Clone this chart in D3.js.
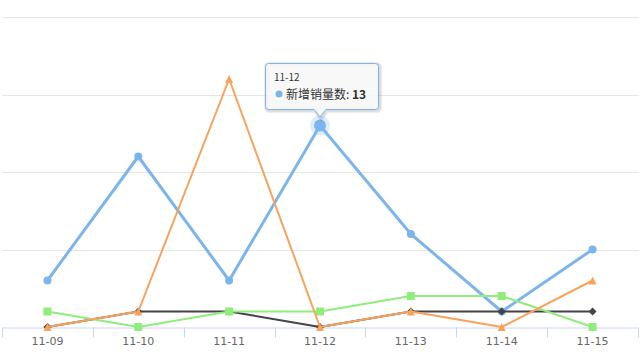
<!DOCTYPE html>
<html lang="zh">
<head>
<meta charset="utf-8">
<title>新增销量</title>
<script src="https://cdn.jsdelivr.net/npm/d3@7"></script>
<style>
  html, body { margin: 0; padding: 0; background: #fff; }
  svg { display: block; font-family: "Noto Sans CJK SC", "Noto Sans", sans-serif; }
</style>
</head>
<body>
<script>
// data
const categories = ['11-09', '11-10', '11-11', '11-12', '11-13', '11-14', '11-15'];
const salesNew = [3, 11, 3, 13, 6, 1, 5];     // 新增销量数
const seriesB  = [0, 1, 1, 0, 1, 1, 1];
const seriesC  = [1, 0, 1, 1, 2, 2, 0];
const seriesD  = [0, 1, 16, 0, 1, 0, 3];
const yTicks   = [0, 5, 10, 15, 20];

const hoverIndex = 3; // tooltip shown on 11-12

const width = 640, height = 360;
const plot = { left: 2, right: 638, top: 17, bottom: 327 };

const series = [
  { name: '新增销量数', data: salesNew, color: '#7cb5ec', symbol: 'circle' },
  { name: 'B', data: seriesB, color: '#434348', symbol: 'diamond' },
  { name: 'C', data: seriesC, color: '#90ed7d', symbol: 'square' },
  { name: 'D', data: seriesD, color: '#f7a35c', symbol: 'triangle' }
];

const x = d3.scaleBand().domain(categories).range([plot.left, plot.right]);
const y = d3.scaleLinear().domain([0, 20]).range([plot.bottom, plot.top]);
const cx = c => x(c) + x.bandwidth() / 2;

const svg = d3.select('body').append('svg')
    .attr('width', width)
    .attr('height', height);

// grid lines
svg.append('g')
  .selectAll('line')
  .data(yTicks.slice(1))
  .join('line')
    .attr('x1', plot.left).attr('x2', plot.right + 1)
    .attr('y1', d => Math.round(y(d)) + 0.5)
    .attr('y2', d => Math.round(y(d)) + 0.5)
    .attr('stroke', '#e6e6e6');

// x axis
const xAxis = svg.append('g')
    .attr('transform', `translate(0,${plot.bottom + 0.5})`)
    .call(d3.axisBottom(x).tickSize(0).tickPadding(10));
xAxis.select('.domain').attr('stroke', '#ccd6eb');
xAxis.selectAll('text')
    .attr('fill', '#666')
    .attr('font-size', 11)
    .attr('font-family', '"DejaVu Sans", sans-serif');
xAxis.append('g')
  .selectAll('line')
  .data(categories.map(c => x(c)).concat([plot.right]))
  .join('line')
    .attr('x1', d => Math.round(d) + 0.5).attr('x2', d => Math.round(d) + 0.5)
    .attr('y1', 0).attr('y2', 10)
    .attr('stroke', '#ccd6eb');

// marker shapes, highcharts style
function marker(type, r) {
  return function (px, py) {
    const p = d3.path();
    if (type === 'circle') {
      p.arc(px, py, r, 0, 2 * Math.PI);
    } else if (type === 'square') {
      p.rect(px - r, py - r, 2 * r, 2 * r);
    } else if (type === 'diamond') {
      p.moveTo(px, py - r); p.lineTo(px + r, py); p.lineTo(px, py + r); p.lineTo(px - r, py); p.closePath();
    } else {
      p.moveTo(px, py - r); p.lineTo(px + r, py + r); p.lineTo(px - r, py + r); p.closePath();
    }
    return p.toString();
  };
}

const line = d3.line()
    .x((d, i) => cx(categories[i]))
    .y(d => y(d));

series.forEach((s, si) => {
  const g = svg.append('g');
  g.append('path')
    .datum(s.data)
    .attr('d', line)
    .attr('fill', 'none')
    .attr('stroke', s.color)
    .attr('stroke-width', si === 0 ? 3 : 2)
    .attr('stroke-linejoin', 'round')
    .attr('stroke-linecap', 'round');

  if (si === 0) {
    // hover halo
    g.append('circle')
      .attr('cx', cx(categories[hoverIndex]))
      .attr('cy', y(s.data[hoverIndex]))
      .attr('r', 10)
      .attr('fill', s.color)
      .attr('fill-opacity', 0.25);
  }

  g.selectAll('path.pt')
    .data(s.data)
    .join('path')
      .attr('class', 'pt')
      .attr('d', (d, i) => marker(s.symbol, (si === 0 && i === hoverIndex) ? 6 : 4)(cx(categories[i]), y(d)))
      .attr('fill', s.color);
});

// tooltip
const tip = { x: 265.5, y: 63.5, w: 113, h: 46, r: 3 };
const ax = cx(categories[hoverIndex]), ay = 117;
function tipPath(ox, oy) {
  const p = d3.path();
  const { x: tx, y: ty, w, h, r } = tip;
  p.moveTo(tx + ox + r, ty + oy);
  p.lineTo(tx + ox + w - r, ty + oy);
  p.quadraticCurveTo(tx + ox + w, ty + oy, tx + ox + w, ty + oy + r);
  p.lineTo(tx + ox + w, ty + oy + h - r);
  p.quadraticCurveTo(tx + ox + w, ty + oy + h, tx + ox + w - r, ty + oy + h);
  p.lineTo(ax + ox + 6, ty + oy + h);
  p.lineTo(ax + ox, ay + oy);
  p.lineTo(ax + ox - 6, ty + oy + h);
  p.lineTo(tx + ox + r, ty + oy + h);
  p.quadraticCurveTo(tx + ox, ty + oy + h, tx + ox, ty + oy + h - r);
  p.lineTo(tx + ox, ty + oy + r);
  p.quadraticCurveTo(tx + ox, ty + oy, tx + ox + r, ty + oy);
  p.closePath();
  return p.toString();
}

const tg = svg.append('g');
[3, 2, 1].forEach(k => {
  tg.append('path')
    .attr('d', tipPath(1, 1))
    .attr('fill', 'none')
    .attr('stroke', '#000')
    .attr('stroke-opacity', 0.025 * k)
    .attr('stroke-width', 2 * k - 1);
});
tg.append('path')
  .attr('d', tipPath(0, 0))
  .attr('fill', 'rgba(247,247,247,0.85)')
  .attr('stroke', series[0].color)
  .attr('stroke-width', 1);

tg.append('text')
  .attr('x', 274).attr('y', 81)
  .attr('font-size', 10)
  .attr('fill', '#333')
  .text(categories[hoverIndex]);

tg.append('circle')
  .attr('cx', 279).attr('cy', 94)
  .attr('r', 3.5)
  .attr('fill', series[0].color);

const t2 = tg.append('text')
  .attr('x', 286).attr('y', 98.5)
  .attr('font-size', 12)
  .attr('fill', '#333');
t2.append('tspan').text(series[0].name + ': ');
t2.append('tspan').attr('font-weight', 'bold').text(series[0].data[hoverIndex]);
</script>
</body>
</html>
